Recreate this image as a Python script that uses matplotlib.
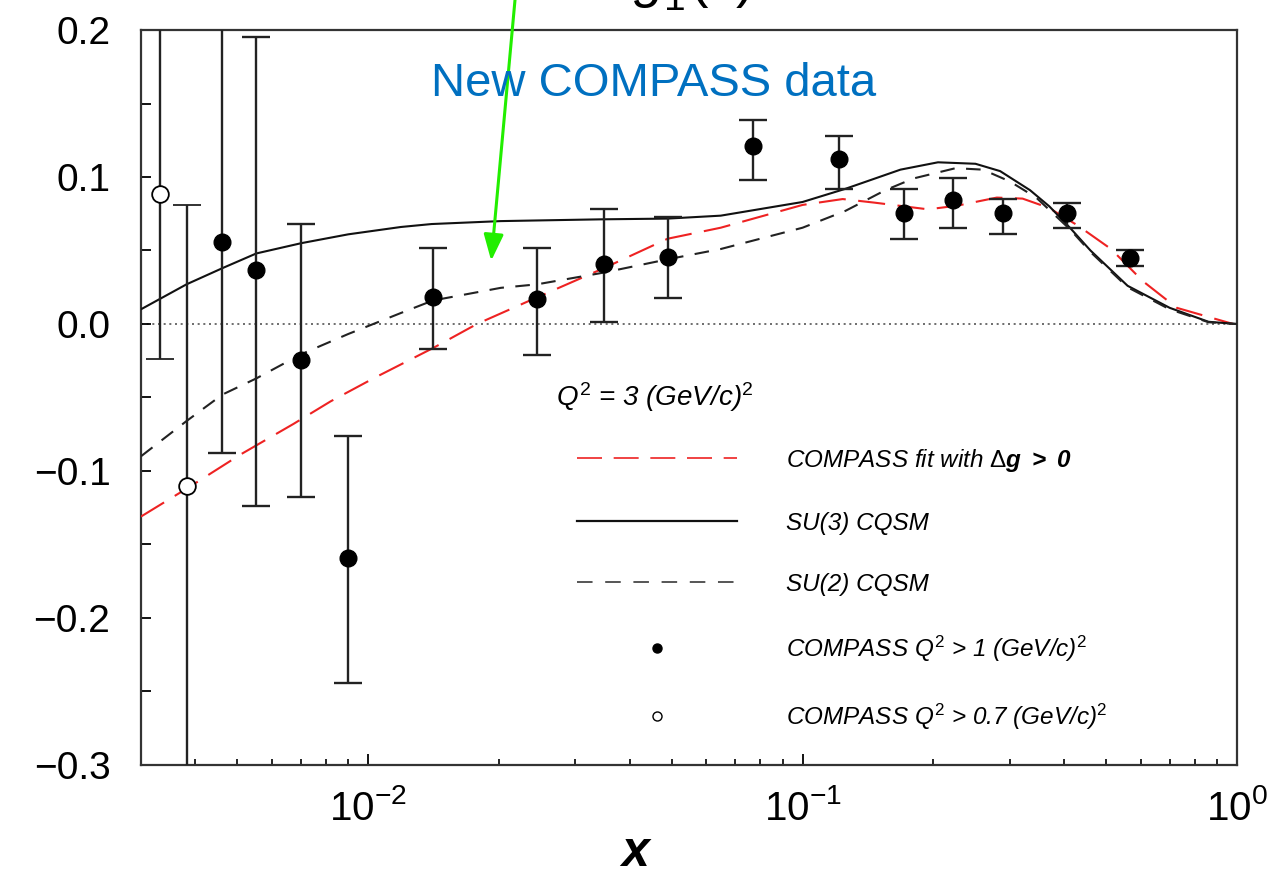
import numpy as np
import matplotlib
matplotlib.use("Agg")
import matplotlib.pyplot as plt
from matplotlib.lines import Line2D
from matplotlib.ticker import LogLocator, MultipleLocator


# =========================================================
# STYLE
# =========================================================

plt.rcParams["font.family"] = ["Liberation Sans", "DejaVu Sans"]
plt.rcParams["mathtext.fontset"] = "custom"
plt.rcParams["mathtext.rm"] = "Liberation Sans"
plt.rcParams["mathtext.it"] = "Liberation Sans:italic"
plt.rcParams["mathtext.bf"] = "Liberation Sans:bold"
plt.rcParams["mathtext.bfit"] = "Liberation Sans:italic:bold"


# =========================================================
# DATA
# =========================================================

# SU(3) chiral quark soliton model (solid)
su3_x = [0.0030, 0.00382, 0.00462, 0.00553, 0.00702, 0.0090, 0.0119, 0.0140,
         0.0202, 0.0343, 0.0489, 0.0648, 0.100, 0.1256, 0.168, 0.205,
         0.250, 0.285, 0.334, 0.370, 0.414, 0.460, 0.560, 0.700, 0.860, 1.0]
su3_y = [0.010, 0.027, 0.038, 0.048, 0.055, 0.061, 0.066, 0.068,
         0.070, 0.0712, 0.0717, 0.0737, 0.083, 0.092, 0.105, 0.110,
         0.109, 0.104, 0.091, 0.080, 0.065, 0.050, 0.026, 0.011, 0.0015, 0.0]

# SU(2) chiral quark soliton model (short dashes)
su2_x = [0.0030, 0.00382, 0.00462, 0.00553, 0.00702, 0.0090, 0.0119, 0.0141,
         0.0202, 0.0245, 0.0349, 0.0489, 0.0648, 0.100, 0.1256, 0.155,
         0.180, 0.225, 0.260, 0.300, 0.345, 0.414, 0.460, 0.560, 0.700, 0.860, 1.0]
su2_y = [-0.090, -0.066, -0.048, -0.037, -0.0205, -0.0068, 0.0075, 0.016,
         0.0246, 0.027, 0.035, 0.044, 0.051, 0.0655, 0.077, 0.091,
         0.099, 0.106, 0.105, 0.097, 0.086, 0.064, 0.049, 0.025, 0.010, 0.0012, 0.0]

# COMPASS fit with Delta g > 0 (red long dashes)
fit_x = [0.0030, 0.00389, 0.00509, 0.00673, 0.00820, 0.0103, 0.0141, 0.0178,
         0.0240, 0.0349, 0.0489, 0.0648, 0.100, 0.1237, 0.146, 0.1945,
         0.2270, 0.280, 0.321, 0.369, 0.430, 0.513, 0.608, 0.727, 0.98]
fit_y = [-0.131, -0.1106, -0.0887, -0.068, -0.0526, -0.0369, -0.0164, 0.0,
         0.017, 0.038, 0.058, 0.0655, 0.081, 0.085, 0.0826, 0.078,
         0.0805, 0.086, 0.0853, 0.079, 0.067, 0.051, 0.029, 0.011, 0.0]

# COMPASS data, Q^2 > 1 (GeV/c)^2 : value, lower and upper end of the bar
pts_x = [0.00462, 0.00553, 0.00702, 0.0090, 0.0141, 0.02446, 0.0349, 0.0489,
         0.0767, 0.1216, 0.1716, 0.2223, 0.2897, 0.4066, 0.5675]
pts_y = [0.056, 0.037, -0.0246, -0.159, 0.0184, 0.017, 0.041, 0.0457,
         0.121, 0.112, 0.0757, 0.0846, 0.0758, 0.0758, 0.045]
pts_lo = [-0.088, -0.1235, -0.118, -0.244, -0.017, -0.021, 0.0014, 0.0177,
          0.098, 0.092, 0.058, 0.065, 0.0614, 0.0655, 0.0396]
pts_hi = [0.30, 0.195, 0.068, -0.0765, 0.052, 0.052, 0.078, 0.073,
          0.139, 0.128, 0.092, 0.099, 0.085, 0.0826, 0.0505]

# COMPASS data, Q^2 > 0.7 (GeV/c)^2
low_x = [0.00331, 0.00382]
low_y = [0.0887, -0.110]
low_lo = [-0.024, -0.40]
low_hi = [0.30, 0.081]

XLIM = (0.003, 1.0)
YLIM = (-0.3, 0.2)


# =========================================================
# PLOT
# =========================================================

def main():
    fig = plt.figure(figsize=(12.7, 8.85), dpi=100)
    ax = fig.add_axes([0.1110, 0.1356, 0.8630, 0.8305])

    ax.set_xscale("log")
    ax.set_xlim(*XLIM)
    ax.set_ylim(*YLIM)

    ax.axhline(0.0, color="#555555", lw=1.2, ls=(0, (1.2, 2.2)), zorder=1)

    ax.plot(fit_x, fit_y, color="#ee2222", lw=1.5, ls=(0, (13, 6)), zorder=3)
    ax.plot(su3_x, su3_y, color="#111111", lw=1.5, ls="-", zorder=3)
    ax.plot(su2_x, su2_y, color="#222222", lw=1.5, ls=(0, (7, 5.5)), zorder=3)

    py = np.array(pts_y)
    ax.errorbar(pts_x, pts_y,
                yerr=[py - np.array(pts_lo), np.array(pts_hi) - py],
                fmt="o", ms=12, color="black", ecolor="#222222",
                elinewidth=1.7, capsize=10, capthick=1.7, zorder=4)

    ly = np.array(low_y)
    ax.errorbar(low_x, low_y,
                yerr=[ly - np.array(low_lo), np.array(low_hi) - ly],
                fmt="o", ms=12, mfc="white", mec="black", mew=1.3,
                ecolor="#222222", elinewidth=1.7, capsize=10, capthick=1.7,
                zorder=4)

    # axes frame and ticks
    for sp in ax.spines.values():
        sp.set_color("#333333")
        sp.set_linewidth(1.6)

    ax.yaxis.set_major_locator(MultipleLocator(0.1))
    ax.yaxis.set_minor_locator(MultipleLocator(0.05))
    ax.xaxis.set_major_locator(LogLocator(base=10))
    ax.xaxis.set_minor_locator(LogLocator(base=10, subs=np.arange(2, 10)))
    ax.xaxis.set_minor_formatter(plt.NullFormatter())

    ax.tick_params(axis="y", which="both", direction="in", length=7,
                   width=1.3, labelsize=28, pad=22, right=False)
    ax.tick_params(axis="x", which="major", direction="in", length=8,
                   width=1.3, labelsize=29, pad=17, top=False)
    ax.tick_params(axis="x", which="minor", direction="in", length=4.5,
                   width=1.2, top=False)
    ax.set_yticks([-0.3, -0.2, -0.1, 0.0, 0.1, 0.2])
    ax.set_yticklabels(["\u22120.3", "\u22120.2", "\u22120.1", "0.0", "0.1", "0.2"])

    ax.set_xlabel("x", fontsize=36, style="italic", weight="bold")
    ax.xaxis.set_label_coords(0.451, -0.088)

    # legend
    handles = [
        Line2D([], [], color="#ee2222", lw=1.2, ls=(0, (15, 7))),
        Line2D([], [], color="#111111", lw=1.6, ls="-"),
        Line2D([], [], color="#555555", lw=1.4, ls=(0, (8, 6.5))),
        Line2D([], [], ls="none", marker="o", ms=6.5, color="black"),
        Line2D([], [], ls="none", marker="o", ms=6.5, mfc="white",
               mec="black", mew=1.0),
    ]
    labels = [
        r"COMPASS fit with $\Delta\mathbfit{g\ >\ 0}$",
        "SU(3) CQSM",
        "SU(2) CQSM",
        r"COMPASS $Q^2$ > 1 (GeV/c)$^2$",
        r"COMPASS $Q^2$ > 0.7 (GeV/c)$^2$",
    ]
    ax.legend(handles, labels, loc="upper left",
              bbox_to_anchor=(0.3978, 0.433), frameon=False,
              prop={"size": 17.5, "style": "italic"},
              handlelength=6.6, handletextpad=2.0, labelspacing=1.56,
              borderpad=0, borderaxespad=0)

    ax.text(0.379, 0.500, r"$Q^2$ = 3 (GeV/c)$^2$", transform=ax.transAxes,
            fontsize=20, style="italic", ha="left", va="center")

    # overlay annotation
    fig.text(654 / 1270, 1 - 84 / 885, "New COMPASS data", color="#0070c0",
             fontsize=34, ha="center", va="center")

    ax.annotate("", xy=(0.0192, 0.043), xycoords="data",
                xytext=(515 / 1270, 1.0), textcoords="figure fraction",
                arrowprops=dict(arrowstyle="-|>,head_length=0.8,head_width=0.3",
                                color="#22ee00", lw=2.2, mutation_scale=20,
                                shrinkA=0, shrinkB=0),
                annotation_clip=False, zorder=6)

    # title, mostly cut off at the top edge as in the source figure
    fig.text(633 / 1270, 1.004, r"$g_1^d(x)$", fontsize=40,
             ha="left", va="baseline")

    fig.savefig("out.png", dpi=100)
    plt.close(fig)


if __name__ == "__main__":
    main()
